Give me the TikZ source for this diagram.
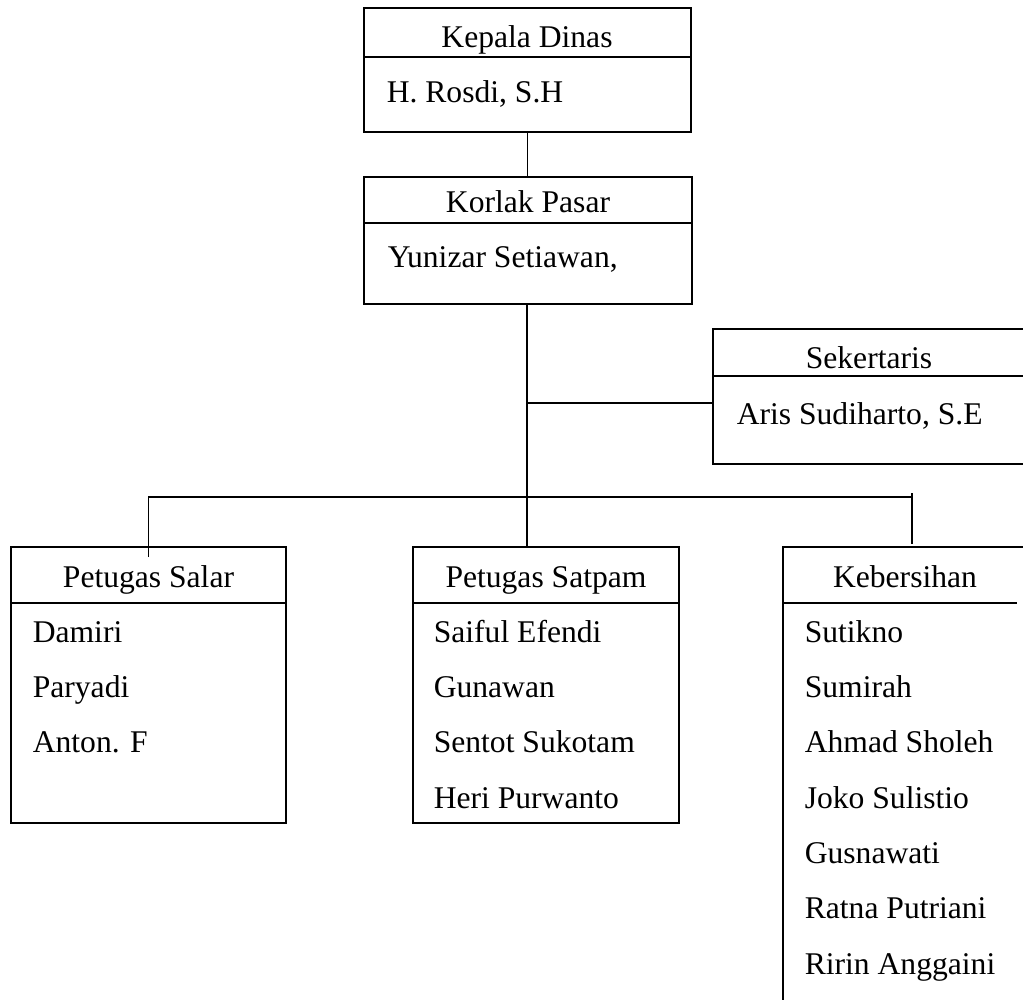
\documentclass[tikz,border=0pt]{standalone}
\usepackage{fontspec}
\setmainfont{Liberation Serif}
\usepackage{tikz}

\begin{document}
\begin{tikzpicture}[x=0.5pt,y=-0.5pt,line width=0.8pt,
  kotak/.style={draw,anchor=north west,inner sep=0pt,outer sep=0pt},
  judul/.style={anchor=base,inner sep=0pt,font=\fontsize{15.8}{19}\selectfont},
  isi/.style={anchor=base west,inner sep=0pt,font=\fontsize{15.8}{19}\selectfont}]
  \useasboundingbox (0,0) rectangle (1023,1000);
  \clip (0,0) rectangle (1023,1000);
  % Kepala Dinas
  \node[kotak,minimum width=163.5pt,minimum height=62pt] (kepala) at (364,8) {};
  \draw ([yshift=-24.5pt]kepala.north west) -- ([yshift=-24.5pt]kepala.north east);
  \node[judul] (kepalaJ) at (527,48) {Kepala Dinas};
  \node[isi] (kepalaN) at (386,103) {H. Rosdi, S.H};
  % Korlak Pasar
  \node[kotak,minimum width=164pt,minimum height=63.5pt] (korlak) at (364,177) {};
  \draw ([yshift=-23pt]korlak.north west) -- ([yshift=-23pt]korlak.north east);
  \node[judul] (korlakJ) at (528,213) {Korlak Pasar};
  \node[isi] (korlakN) at (387,268) {Yunizar Setiawan,};
  % Sekertaris
  \node[kotak,minimum width=170pt,minimum height=67.5pt] (sekertaris) at (713,329) {};
  \draw ([yshift=-23.5pt]sekertaris.north west) -- ([yshift=-23.5pt]sekertaris.north east);
  \node[judul] (sekertarisJ) at (869,368) {Sekertaris};
  \node[isi] (sekertarisN) at (736,424) {Aris Sudiharto, S.E};
  % Petugas Salar
  \node[kotak,minimum width=137.5pt,minimum height=138pt] (salar) at (11,547) {};
  \draw ([yshift=-28pt]salar.north west) -- ([yshift=-28pt]salar.north east);
  \node[judul] (salarJ) at (148.5,587) {Petugas Salar};
  \foreach \nama [count=\i] in {Damiri,Paryadi,Anton. F}
    \node[isi] (salar\i) at (32,{587+55.3*\i}) {\nama};
  % Petugas Satpam
  \node[kotak,minimum width=133pt,minimum height=138pt] (satpam) at (413,547) {};
  \draw ([yshift=-28pt]satpam.north west) -- ([yshift=-28pt]satpam.north east);
  \node[judul] (satpamJ) at (546,587) {Petugas Satpam};
  \foreach \nama [count=\i] in {Saiful Efendi,Gunawan,Sentot Sukotam,Heri Purwanto}
    \node[isi] (satpam\i) at (433,{587+55.3*\i}) {\nama};
  % Kebersihan
  \node[kotak,minimum width=140pt,minimum height=240pt] (bersih) at (783,547) {};
  \draw ([yshift=-28pt]bersih.north west) -- ++(234,0);
  \node[judul] (bersihJ) at (905,587) {Kebersihan};
  \foreach \nama [count=\i] in {Sutikno,Sumirah,Ahmad Sholeh,Joko Sulistio,Gusnawati,Ratna Putriani,Ririn Anggaini}
    \node[isi] (bersih\i) at (804,{587+55.3*\i}) {\nama};
  % Garis
  \coordinate (cabang) at (527,403);
  \coordinate (bus) at (527,497);
  \coordinate (busKanan) at (912,493);
  \coordinate (bersihT) at (912,544);
  \draw (kepala.south) -- (kepala.south |- korlak.north);
  \draw (korlak.south -| cabang) -- (cabang |- satpam.north);
  \draw (cabang) -- (cabang -| sekertaris.west);
  \draw ([yshift=-5pt]salar.north) -- (salar.north |- bus) -- (bersihT |- bus);
  \draw (busKanan) -- (bersihT);
\end{tikzpicture}
\end{document}
